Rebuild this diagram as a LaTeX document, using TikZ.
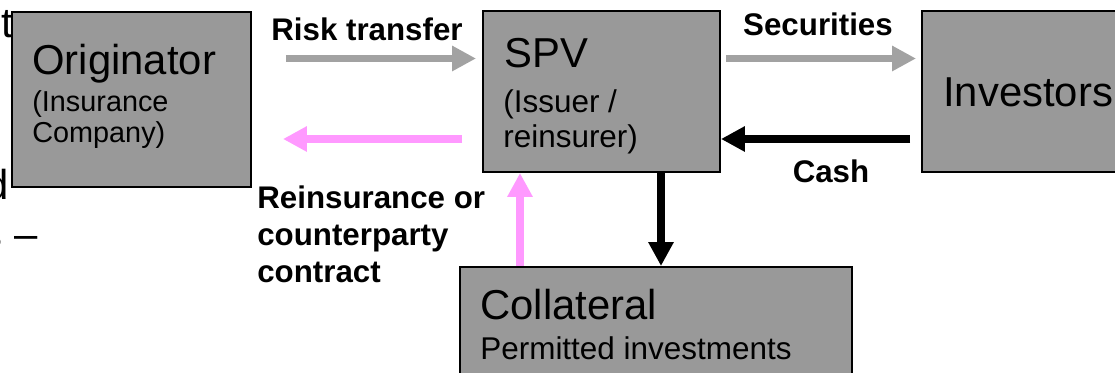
\documentclass[tikz,border=0pt]{standalone}
\usepackage{fontspec}
\setmainfont{Liberation Sans}
\usepackage{tikz}
\usetikzlibrary{arrows.meta, positioning, calc}

\definecolor{boxgray}{RGB}{153,153,153}
\definecolor{flowgray}{RGB}{162,162,162}
\definecolor{flowpink}{RGB}{255,153,255}

\tikzset{
  party/.style={draw=black, line width=1.1pt, fill=boxgray, inner sep=0pt},
  flow/.style={line width=4.5pt, -{Triangle[length=0.48cm, width=0.48cm]}},
  partytitle/.style={anchor=base west, inner sep=0pt, font=\fontsize{23.8}{28}\selectfont},
  partysub/.style={anchor=base west, inner sep=0pt, align=left, font=\fontsize{17.9}{20.4}\selectfont},
  flowlabel/.style={inner sep=0pt, font=\bfseries\fontsize{17.8}{21.3}\selectfont},
}

\begin{document}
\begin{tikzpicture}
  \useasboundingbox (0,0) rectangle (22.3,-7.46);
  \clip (0,0) rectangle (22.3,-7.46);

  % text running off the left edge
  \node[partytitle, anchor=base east] (fragA) at (0.26,-0.76) {t};
  \node[partytitle, anchor=base east] (fragB) at (0.18,-4.00) {d};
  \node[partytitle, anchor=base east] (fragC) at (0.76,-4.98) {s --};

  % Parties (multi-line texts sit on their last baseline)
  \node[party, minimum width=4.78cm, minimum height=3.5cm] (orig) at (2.63,-1.99) {};
  \node[partytitle] (origT) at (0.64,-1.50) {Originator};
  \node[partysub, font=\fontsize{16.4}{18.1}\selectfont] (origS) at (0.64,-2.86) {(Insurance\\Company)};

  \node[party, minimum width=4.74cm, minimum height=3.22cm] (spv) at (12.03,-1.83) {};
  \node[partytitle] (spvT) at (10.08,-1.36) {SPV};
  \node[partysub] (spvS) at (10.06,-2.96) {(Issuer /\\reinsurer)};

  \node[party, minimum width=4.76cm, minimum height=3.22cm] (inv) at (20.82,-1.83) {};
  \node[partytitle] (invT) at (18.86,-2.14) {Investors};

  \node[party, minimum width=7.84cm, minimum height=2.8cm] (coll) at (13.12,-6.74) {};
  \node[partytitle] (collT) at (9.60,-6.40) {Collateral};
  \node[partysub] (collS) at (9.60,-7.20) {Permitted investments};

  % Flows between parties
  \coordinate (topY) at (0,-1.17);
  \coordinate (lowY) at (0,-2.78);
  \coordinate (downX) at (13.22,0);
  \coordinate (upX) at (10.40,0);

  \draw[flow, flowgray, shorten <=0.68cm, shorten >=0.12cm] (orig.east |- topY) -- (spv.west |- topY);
  \draw[flow, flowpink, shorten <=0.40cm, shorten >=0.62cm] (spv.west |- lowY) -- (orig.east |- lowY);
  \draw[flow, flowgray, shorten <=0.10cm, shorten >=0.10cm] (spv.east |- topY) -- (inv.west |- topY);
  \draw[flow, black, shorten <=0.22cm] (inv.west |- lowY) -- (spv.east |- lowY);
  \draw[flow, black] (spv.south -| downX) -- (coll.north -| downX);
  \draw[flow, flowpink] (coll.north -| upX) -- (spv.south -| upX);

  % Flow labels
  \node[flowlabel, anchor=base] (riskL) at (7.34,-0.82) {Risk transfer};
  \node[flowlabel, anchor=base] (secL) at (16.36,-0.72) {Securities};
  \node[flowlabel, anchor=base] (cashL) at (16.62,-3.66) {Cash};
  \node[flowlabel, anchor=base west, align=left] (reL) at (5.14,-5.66) {Reinsurance or\\counterparty\\contract};
\end{tikzpicture}
\end{document}
